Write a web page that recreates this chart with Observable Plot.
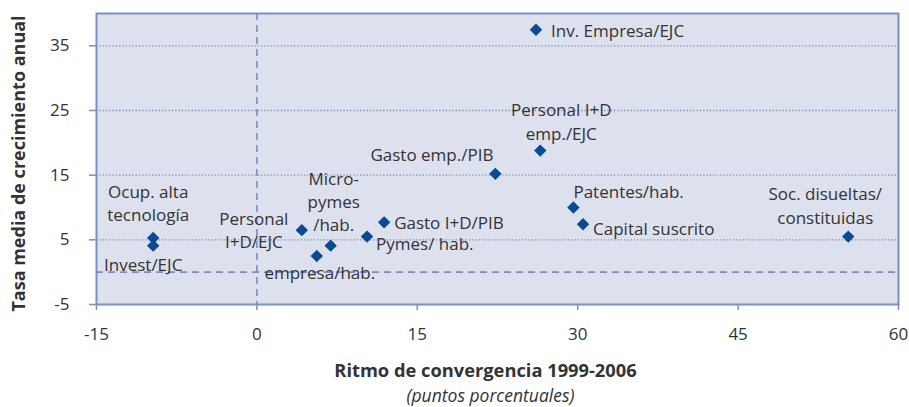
<!DOCTYPE html>
<html>
<head>
<meta charset="utf-8">
<script src="https://cdn.jsdelivr.net/npm/d3@7"></script>
<script src="https://cdn.jsdelivr.net/npm/@observablehq/plot@0.6"></script>
<style>
  body { margin: 0; background: #ffffff; }
  #chart { width: 909px; height: 407px; }
</style>
</head>
<body>
<div id="chart"></div>
<script>
// ---- data ----
const names = [
  "Inv. Empresa/EJC",
  "Personal I+D\nemp./EJC",
  "Gasto emp./PIB",
  "Patentes/hab.",
  "Capital suscrito",
  "Gasto I+D/PIB",
  "Pymes/ hab.",
  "Micro-\npymes\n/hab.",
  "empresa/hab.",
  "Personal\nI+D/EJC",
  "Ocup. alta\ntecnología",
  "Invest/EJC",
  "Soc. disueltas/\nconstituidas"
];
const convergencia = [26.1, 26.5, 22.3, 29.6, 30.5, 11.9, 10.3, 6.9, 5.6, 4.2, -9.7, -9.7, 55.3];
const crecimiento  = [37.5, 18.8, 15.2, 10.0, 7.4, 7.7, 5.5, 4.1, 2.5, 6.5, 5.3, 4.1, 5.5];
const xTicks = [-15, 0, 15, 30, 45, 60];
const yTicks = [-5, 5, 15, 25, 35];
const xTitle = "Ritmo de convergencia 1999-2006";
const xSubtitle = "(puntos porcentuales)";
const yTitle = "Tasa media de crecimiento anual";

// ---- label layout (pixel offsets from each point) ----
const labelLayout = [
  {anchor: "start",  dx: 15,  dy: 0},
  {anchor: "middle", dx: 21,  dy: -30},
  {anchor: "end",    dx: -2,  dy: -20},
  {anchor: "start",  dx: 0,   dy: -17},
  {anchor: "start",  dx: 10,  dy: 3},
  {anchor: "start",  dx: 10,  dy: -1},
  {anchor: "start",  dx: 9,   dy: 6},
  {anchor: "middle", dx: 3,   dy: -45},
  {anchor: "middle", dx: 3,   dy: 16},
  {anchor: "middle", dx: -48, dy: -1},
  {anchor: "middle", dx: -5,  dy: -36},
  {anchor: "middle", dx: -10, dy: 18},
  {anchor: "middle", dx: -23, dy: -32}
];

const points = names.map((n, i) => ({name: n, x: convergencia[i], y: crecimiento[i]}));

const BLUE = "#7b8fc5";
const MARK = "#0b4a92";
const TEXT = "#333333";
const FONT = "'Open Sans', sans-serif";

const labelMarks = points.map((p, i) => Plot.text([p], {
  x: "x", y: "y", text: "name",
  textAnchor: labelLayout[i].anchor,
  dx: labelLayout[i].dx, dy: labelLayout[i].dy,
  lineHeight: 1.36,
  fontSize: 17,
  fill: TEXT
}));

const chart = Plot.plot({
  width: 909,
  height: 407,
  marginLeft: 96,
  marginRight: 11,
  marginTop: 13,
  marginBottom: 103,
  style: {fontFamily: FONT, fontSize: "17px", color: TEXT, background: "#ffffff"},
  x: {domain: [-15, 60]},
  y: {domain: [-5, 40]},
  marks: [
    Plot.frame({fill: "#dde1ee", stroke: null}),
    Plot.gridY(yTicks.filter(t => t > -5), {stroke: BLUE, strokeOpacity: 1, strokeWidth: 1.3, strokeDasharray: "1.3,2"}),
    Plot.ruleX([0], {stroke: BLUE, strokeWidth: 1.6, strokeDasharray: "7,5"}),
    Plot.ruleY([0], {stroke: BLUE, strokeWidth: 1.6, strokeDasharray: "7,5"}),
    Plot.frame({stroke: BLUE, strokeWidth: 2}),
    Plot.axisX(xTicks, {stroke: BLUE, strokeWidth: 1.5, tickSize: 6, tickPadding: 17, fontSize: 17, fill: TEXT, label: null, tickFormat: d => String(d)}),
    Plot.axisY(yTicks, {stroke: BLUE, strokeWidth: 1.5, tickSize: 7, tickPadding: 20, fontSize: 17, fill: TEXT, label: null, tickFormat: d => String(d)}),
    Plot.dot(points, {x: "x", y: "y", symbol: "diamond2", r: 5.6, fill: MARK, stroke: null}),
    ...labelMarks,
    Plot.text([xTitle], {frameAnchor: "bottom", dx: -12, dy: 72, fontWeight: "bold", fontSize: 18.3, fill: TEXT}),
    Plot.text([xSubtitle], {frameAnchor: "bottom", dx: -7, dy: 97, fontStyle: "italic", fontSize: 17.5, fill: TEXT}),
    Plot.text([yTitle], {frameAnchor: "left", textAnchor: "middle", dx: -77, dy: 4.5, rotate: -90, fontWeight: "bold", fontSize: 18, fill: TEXT})
  ]
});
document.getElementById("chart").appendChild(chart);
</script>
</body>
</html>
